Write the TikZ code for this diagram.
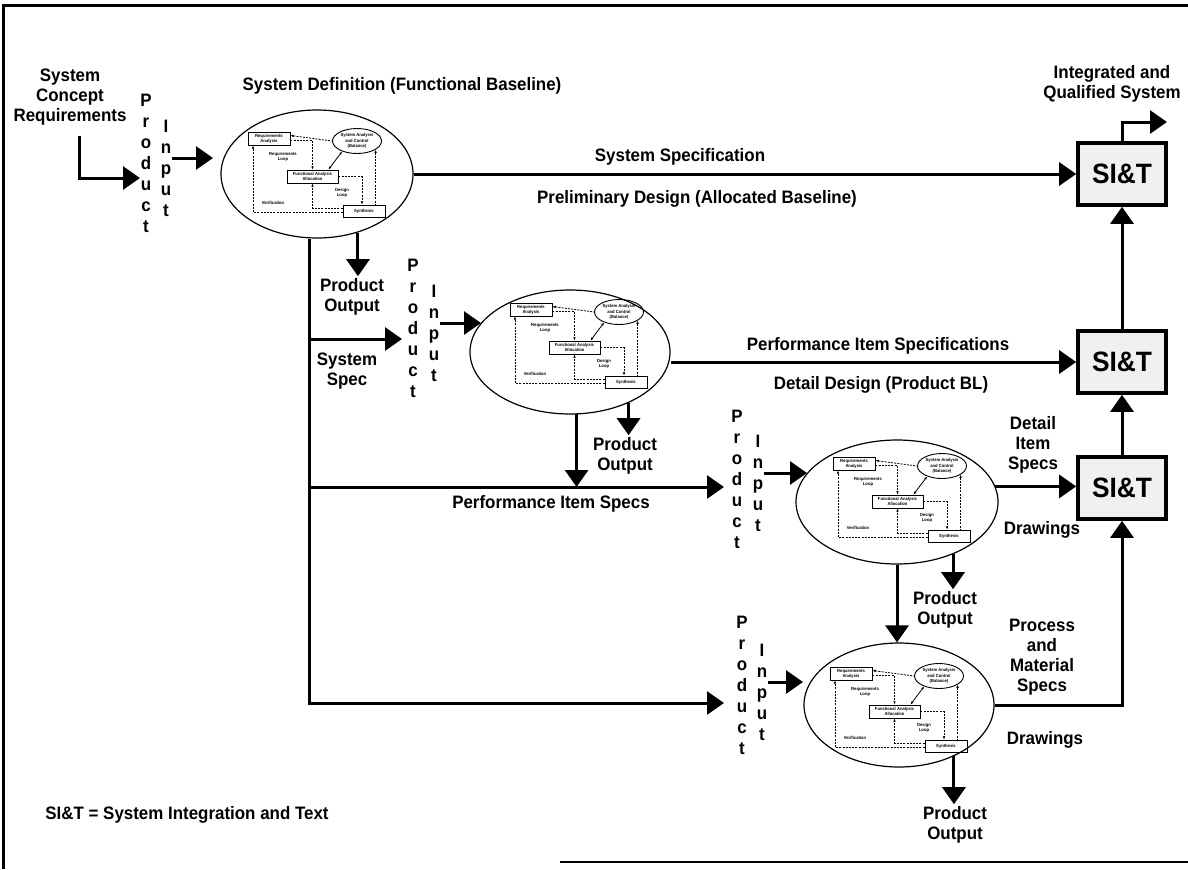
\documentclass[tikz,border=0pt]{standalone}
\usepackage{fontspec}
\setmainfont{Liberation Sans}[FakeStretch=0.94]
\usetikzlibrary{positioning, arrows.meta, shapes.geometric}

\tikzset{
  lbl/.style={font=\fontsize{9}{10}\selectfont\bfseries, align=center, inner sep=1pt},
  letters/.style={font=\fontsize{9}{10.5}\selectfont\bfseries, align=center, inner sep=0pt},
  flow/.style={line width=1.5pt, -{Triangle[length=8.5pt,width=11.5pt]}},
  stage/.style={ellipse, draw, line width=0.6pt, inner sep=0pt},
  sitbox/.style={draw, line width=1.8pt, fill=gray!12, minimum width=44pt, minimum height=31pt, font=\fontsize{14}{16}\selectfont\bfseries},
  tinybox/.style={draw, line width=0.45pt, font=\fontsize{2.2}{2.6}\selectfont\bfseries, align=center, inner sep=0pt},
  tinytext/.style={font=\fontsize{2.2}{2.6}\selectfont\bfseries, align=center, inner sep=0pt},
  loopline/.style={line width=0.4pt, dash pattern=on 1pt off 0.6pt, -{Latex[length=1.6pt,width=1.3pt]}},
}

% the small process loop drawn inside every stage ellipse
\newcommand{\seloop}[2]{%
  \begin{scope}[shift={(#2)}]
    \node[tinybox, minimum width=21pt, minimum height=6.5pt] (#1ra) at (-47,-38.5) {Requirements\\Analysis};
    \node[tinybox, ellipse, minimum width=24.5pt, minimum height=12.5pt] (#1sa) at (41,-36) {System Analysis\\and Control\\(Balance)};
    \node[tinytext] (#1rl) at (-33,-20) {Requirements\\Loop};
    \node[tinybox, minimum width=25.5pt, minimum height=6.5pt] (#1fa) at (-3.5,-0.5) {Functional Analysis\\Allocation};
    \node[tinytext] (#1dl) at (26,16) {Design\\Loop};
    \node[tinytext] (#1vf) at (-43,26) {Verification};
    \node[tinybox, minimum width=21pt, minimum height=6pt] (#1sy) at (48,34) {Synthesis};
    \draw[loopline, {Latex[length=1.6pt,width=1.3pt]}-] ([yshift=1.5pt]#1ra.east) -- (#1sa.west);
    \draw[loopline] ([yshift=-1pt]#1ra.east) -| (#1fa.north);
    \draw[line width=0.4pt, {Latex[length=1.6pt,width=1.3pt]}-{Latex[length=1.6pt,width=1.3pt]}] (#1sa.215) -- ([xshift=-5pt]#1fa.north east);
    \draw[loopline] (#1fa.east) -| ([xshift=-1pt]#1sy.north);
    \draw[loopline, {Latex[length=1.6pt,width=1.3pt]}-] (#1sa.-25) -- (#1sa.-25 |- #1sy.north);
    \draw[loopline] ([yshift=1.5pt]#1sy.west) -| (#1fa.south);
    \draw[loopline] ([yshift=-0.5pt]#1sy.west) -| ([xshift=-8pt]#1ra.south);
  \end{scope}}

\begin{document}
\begin{tikzpicture}[x=0.5pt, y=-0.5pt]
  \useasboundingbox (0,0) rectangle (1188,869);
  % frame
  \draw[line width=1.5pt] (3,869) -- (3,5) -- (1188,5);
  \draw[line width=1pt] (560,862) -- (1188,862);

  % system definition
  \node[lbl] (req) at (70,97) {System\\Concept\\Requirements};
  \node[letters] (pr1) at (146,163) {P\\r\\o\\d\\u\\c\\t};
  \node[letters] (in1) at (166,168) {I\\n\\p\\u\\t};
  \node[stage, minimum width=96pt, minimum height=64pt] (e1) at (317,174) {};
  \seloop{e1}{316,177}
  \node[lbl] (t1) at (402,86) {System Definition (Functional Baseline)};
  \coordinate (r0) at (79,136);
  \coordinate (r1) at (140,178);
  \draw[flow] (r0) |- (r1);
  \coordinate (i1) at (213,158);
  \draw[flow] (in1.east |- i1) -- (i1);

  % SI&T column
  \node[sitbox] (b1) at (1122,174) {SI\&T};
  \node[sitbox] (b2) at (1122,362) {SI\&T};
  \node[sitbox] (b3) at (1122,488) {SI\&T};
  \draw[flow] (b2) -- (b1);
  \draw[flow] (b3) -- (b2);
  \node[lbl] (iq) at (1112,84) {Integrated and\\Qualified System};
  \coordinate (o1) at (1167,122);
  \draw[flow] (b1.north) |- (o1);

  \draw[flow] (e1.east) -- (b1.west);
  \node[lbl] (sspec) at (680,157) {System Specification};
  \node[lbl] (pd) at (697,199) {Preliminary Design (Allocated Baseline)};

  % trunk to lower stages
  \coordinate (j2) at (309,339);
  \coordinate (j3) at (309,487);
  \coordinate (j4) at (309,703);
  \coordinate (r2) at (402,339);
  \coordinate (r3) at (724,487);
  \coordinate (r4) at (724,703);
  \draw[flow] (e1.south -| j4) -- (j4) -- (r4);
  \draw[flow] (j2) -- (r2);
  \draw[flow] (j3) -- (r3);
  \node[lbl] (po1) at (352,297) {Product\\Output};
  \draw[flow] (e1.305) -- (e1.305 |- po1.north);
  \node[lbl] (ss) at (347,371) {System\\Spec};

  % preliminary design
  \node[letters] (pr2) at (413,328) {P\\r\\o\\d\\u\\c\\t};
  \node[letters] (in2) at (434,333) {I\\n\\p\\u\\t};
  \coordinate (i2) at (481,323);
  \draw[flow] (in2.east |- i2) -- (i2);
  \node[stage, minimum width=100pt, minimum height=62pt] (e2) at (570,352) {};
  \seloop{e2}{578,348}
  \draw[flow] (e2.east |- b2.west) -- (b2.west);
  \node[lbl] (pispec) at (878,346) {Performance Item Specifications};
  \node[lbl] (dd) at (881,385) {Detail Design (Product BL)};
  \node[lbl] (po2) at (625,456) {Product\\Output};
  \draw[flow] (e2.319) -- (e2.319 |- po2.north);
  \draw[flow] (e2.276) -- (e2.276 |- j3);
  \node[lbl] (pis) at (551,504) {Performance Item Specs};

  % detail design
  \node[letters] (pr3) at (737,479) {P\\r\\o\\d\\u\\c\\t};
  \node[letters] (in3) at (758,483) {I\\n\\p\\u\\t};
  \coordinate (i3) at (807,473);
  \draw[flow] (in3.east |- i3) -- (i3);
  \node[stage, minimum width=101pt, minimum height=62pt] (e3) at (897,502) {};
  \seloop{e3}{901,502}
  \draw[flow] (e3.9) -- (e3.9 -| b3.west);
  \node[lbl] (dis) at (1033,445) {Detail\\Item\\Specs};
  \node[lbl] (dr3) at (1042,530) {Drawings};
  \node[lbl] (po3) at (945,610) {Product\\Output};
  \draw[flow] (e3.317) -- (e3.317 |- po3.north);

  % process stage
  \node[letters] (pr4) at (742,685) {P\\r\\o\\d\\u\\c\\t};
  \node[letters] (in4) at (762,692) {I\\n\\p\\u\\t};
  \coordinate (i4) at (803,682);
  \draw[flow] (in4.east |- i4) -- (i4);
  \node[stage, minimum width=95pt, minimum height=62pt] (e4) at (899,705) {};
  \seloop{e4}{898,712}
  \draw[flow] (e3.south) -- (e3.south |- e4.north);
  \draw[flow] (e4.east) -| (b3.south);
  \node[lbl] (pms) at (1042,657) {Process\\and\\Material\\Specs};
  \node[lbl] (dr4) at (1045,740) {Drawings};
  \node[lbl] (po4) at (955,825) {Product\\Output};
  \draw[flow] (e4.317) -- (e4.317 |- po4.north);

  \node[lbl] (key) at (187,815) {SI\&T = System Integration and Text};
\end{tikzpicture}
\end{document}
